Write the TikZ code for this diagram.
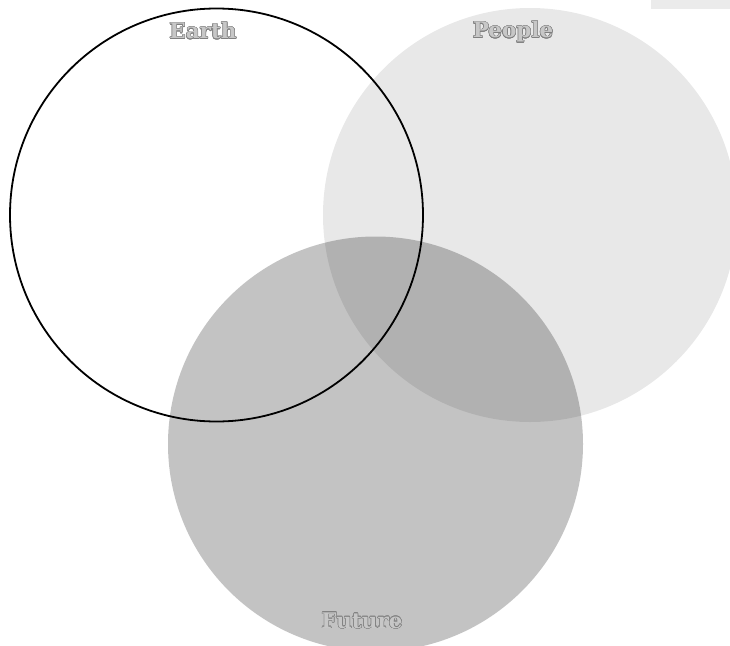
\documentclass[tikz,border=0pt]{standalone}
\usepackage{fontspec}
\setmainfont{DejaVu Serif}
\usepackage{contour}
\contourlength{0.5pt}
\contournumber{16}
\newcommand{\vennname}[1]{\contour{black!50}{\textcolor{black!22}{#1}}}
\begin{document}
\begin{tikzpicture}[x=1pt,y=-1pt,
  venn/.style={fill=black,draw=none},
  vlabel/.style={font=\bfseries\fontsize{21.5}{25}\selectfont,inner sep=0pt}]
\useasboundingbox (0,0) rectangle (730,645);
% small tab in the corner
\fill[black!8] (651,0) rectangle (730,9);
% the three sets
\fill[venn,fill opacity=0.09] (530,215) circle (207);
\fill[venn,fill opacity=0.235] (375.5,444) circle (207.5);
\draw[black,line width=1.8pt] (216.5,215) circle (206.5);
% labels
\node[vlabel] (earth) at (203,31) {\vennname{Earth}};
\node[vlabel] (people) at (513,32) {\vennname{People}};
\node[vlabel] (future) at (362,621) {\vennname{Future}};
\end{tikzpicture}
\end{document}
